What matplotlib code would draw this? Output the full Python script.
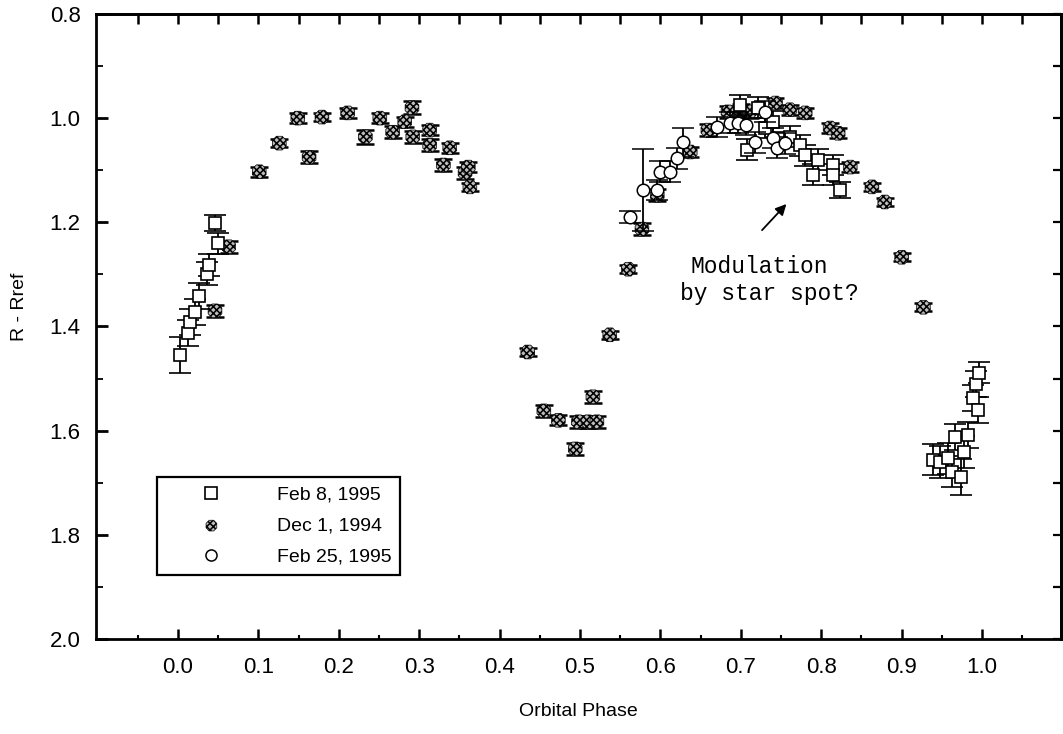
import numpy as np
import matplotlib
matplotlib.use("Agg")
import matplotlib.pyplot as plt
from matplotlib.ticker import FixedLocator, FormatStrFormatter
from matplotlib.lines import Line2D
from matplotlib.legend_handler import HandlerPathCollection

plt.rcParams['font.family'] = ['Liberation Sans', 'DejaVu Sans']
plt.rcParams['hatch.linewidth'] = 1.1

# Feb 8, 1995 (open squares)
feb8_phase = [0.002, 0.012, 0.015, 0.021, 0.026, 0.036, 0.039, 0.050, 0.046,
              0.699, 0.708, 0.721, 0.730, 0.740, 0.761, 0.774, 0.780, 0.790,
              0.796, 0.815, 0.815, 0.823,
              0.939, 0.948, 0.958, 0.963, 0.966, 0.974, 0.977, 0.983, 0.989,
              0.993, 0.995, 0.996]
feb8_mag = [1.455, 1.413, 1.391, 1.372, 1.341, 1.299, 1.282, 1.240, 1.201,
            0.975, 1.061, 0.980, 1.019, 1.007, 1.036, 1.052, 1.071, 1.109,
            1.080, 1.090, 1.109, 1.138,
            1.656, 1.660, 1.653, 1.679, 1.612, 1.689, 1.641, 1.608, 1.537,
            1.510, 1.560, 1.489]
feb8_err = [0.035, 0.025, 0.025, 0.025, 0.025, 0.022, 0.022, 0.020, 0.015,
            0.020, 0.020, 0.020, 0.020, 0.020, 0.020, 0.020, 0.020, 0.020,
            0.020, 0.020, 0.020, 0.015,
            0.030, 0.030, 0.030, 0.030, 0.025, 0.035, 0.030, 0.025, 0.025,
            0.025, 0.025, 0.020]

# Dec 1, 1994 (hatched)
dec1_phase = [0.046, 0.063, 0.101, 0.126, 0.149, 0.163, 0.179, 0.211, 0.233,
              0.251, 0.267, 0.282, 0.291, 0.292, 0.313, 0.313, 0.330, 0.338,
              0.357, 0.361, 0.363,
              0.435, 0.455, 0.473, 0.494, 0.498, 0.510, 0.516, 0.521, 0.537,
              0.560, 0.577, 0.596, 0.637, 0.659, 0.684, 0.700, 0.711, 0.743,
              0.761, 0.780, 0.811, 0.821, 0.836, 0.863, 0.879, 0.900, 0.927]
dec1_mag = [1.370, 1.247, 1.103, 1.048, 1.000, 1.075, 0.998, 0.990, 1.036,
            1.000, 1.027, 1.007, 0.980, 1.036, 1.023, 1.052, 1.090, 1.057,
            1.105, 1.094, 1.132,
            1.449, 1.562, 1.580, 1.635, 1.583, 1.583, 1.535, 1.583, 1.416,
            1.290, 1.213, 1.148, 1.065, 1.023, 0.988, 0.985, 0.988, 0.971,
            0.984, 0.990, 1.019, 1.029, 1.094, 1.132, 1.161, 1.267, 1.363]
dec1_err = [0.012, 0.012, 0.010, 0.008, 0.010, 0.012, 0.008, 0.010, 0.014,
            0.010, 0.012, 0.010, 0.012, 0.012, 0.010, 0.012, 0.012, 0.010,
            0.012, 0.010, 0.008,
            0.008, 0.012, 0.010, 0.012, 0.012, 0.012, 0.012, 0.012, 0.008,
            0.008, 0.012, 0.012, 0.010, 0.012, 0.012, 0.012, 0.012, 0.010,
            0.010, 0.010, 0.010, 0.010, 0.010, 0.008, 0.008, 0.008, 0.008]

# Feb 25, 1995 (open circles)
feb25_phase = [0.562, 0.578, 0.596, 0.600, 0.612, 0.621, 0.628, 0.670, 0.687,
               0.697, 0.707, 0.718, 0.730, 0.740, 0.745, 0.755]
feb25_mag = [1.190, 1.138, 1.138, 1.103, 1.103, 1.077, 1.046, 1.017, 1.009,
             1.009, 1.013, 1.046, 0.988, 1.038, 1.057, 1.048]
feb25_err = [0.012, 0.078, 0.020, 0.020, 0.020, 0.020, 0.028, 0.020, 0.020,
             0.020, 0.020, 0.020, 0.020, 0.020, 0.020, 0.020]

x_ticks = [0.0, 0.1, 0.2, 0.3, 0.4, 0.5, 0.6, 0.7, 0.8, 0.9, 1.0]
y_ticks = [0.8, 1.0, 1.2, 1.4, 1.6, 1.8, 2.0]

fig = plt.figure(figsize=(10.63, 7.34), dpi=100)
ax = fig.add_axes([0.0903, 0.1294, 0.9077, 0.8516])

# Dec 1 first so the other sets sit on top
ax.errorbar(dec1_phase, dec1_mag, yerr=dec1_err, fmt='none', ecolor='black',
            elinewidth=1.2, capsize=6.5, capthick=1.8, zorder=2)
dec_sc = ax.scatter(dec1_phase, dec1_mag, s=115, marker='8', facecolor='#bbbbbb',
                    edgecolor='black', linewidths=0.5, hatch='xxxxx', zorder=3)

ax.errorbar(feb8_phase, feb8_mag, yerr=feb8_err, fmt='s', ms=8.6, mfc='white',
            mec='black', mew=1.2, ecolor='black', elinewidth=1.3, capsize=8,
            capthick=1.6, zorder=4)
ax.errorbar(feb25_phase, feb25_mag, yerr=feb25_err, fmt='o', ms=9, mfc='white',
            mec='black', mew=1.1, ecolor='black', elinewidth=1.3, capsize=8,
            capthick=1.6, zorder=5)

# annotation
ax.annotate('', xy=(0.759, 1.161), xytext=(0.724, 1.219),
            arrowprops=dict(arrowstyle='-|>', color='black', lw=1.3,
                            mutation_scale=16))
ax.text(0.637, 1.297, 'Modulation', family='Liberation Mono', fontsize=16.5,
        ha='left', va='baseline')
ax.text(0.624, 1.349, 'by star spot?', family='Liberation Mono', fontsize=16.5,
        ha='left', va='baseline')

ax.set_xlim(-0.102, 1.098)
ax.set_ylim(2.0, 0.8)

ax.xaxis.set_major_locator(FixedLocator(x_ticks))
ax.xaxis.set_minor_locator(FixedLocator(np.arange(-0.05, 1.06, 0.1)))
ax.xaxis.set_major_formatter(FormatStrFormatter('%.1f'))
ax.yaxis.set_major_locator(FixedLocator(y_ticks))
ax.yaxis.set_minor_locator(FixedLocator(np.arange(0.9, 2.0, 0.2)))
ax.yaxis.set_major_formatter(FormatStrFormatter('%.1f'))

ax.tick_params(axis='x', which='major', direction='in', length=7, width=1.8,
               top=False, labelsize=16, pad=13)
ax.tick_params(axis='x', which='minor', direction='in', length=3, width=1.5,
               top=False)
ax.tick_params(axis='y', which='major', direction='in', length=8.5, width=2,
               right=False, labelsize=16, pad=11)
ax.tick_params(axis='y', which='minor', direction='in', length=5, width=1.3,
               right=False)

for sp in ax.spines.values():
    sp.set_linewidth(2)

# top and right ticks
top = ax.secondary_xaxis('top')
top.xaxis.set_major_locator(FixedLocator(np.arange(-0.05, 1.06, 0.05)))
top.tick_params(direction='in', length=7.5, width=1.8, labeltop=False)
top.spines['top'].set_linewidth(2)
right = ax.secondary_yaxis('right')
right.yaxis.set_major_locator(FixedLocator(np.arange(0.8, 2.01, 0.1)))
right.tick_params(direction='in', length=6, width=1.6, labelright=False)
right.spines['right'].set_linewidth(2)

ax.set_xlabel('Orbital Phase', fontsize=14)
ax.xaxis.set_label_coords(0.5, -0.103)
ax.set_ylabel('R - Rref', fontsize=14)
ax.yaxis.set_label_coords(-0.070, 0.531)

# legend
h_sq = Line2D([], [], marker='s', ls='none', ms=8, mfc='white', mec='black', mew=1.2)
h_ci = Line2D([], [], marker='o', ls='none', ms=8, mfc='white', mec='black', mew=1.1)
leg = ax.legend([h_sq, dec_sc, h_ci], ['Feb 8, 1995', 'Dec 1, 1994', 'Feb 25, 1995'],
                handler_map={dec_sc: HandlerPathCollection(sizes=[70], numpoints=1)},
                loc='upper left', bbox_to_anchor=(0.0632, 0.259), borderaxespad=0,
                fontsize=14, handlelength=4.7, handletextpad=1.0, borderpad=0.45,
                labelspacing=0.7, fancybox=False, framealpha=1, scatterpoints=1)
leg.get_frame().set_edgecolor('black')
leg.get_frame().set_linewidth(1.6)

fig.savefig('out.png', dpi=100)
